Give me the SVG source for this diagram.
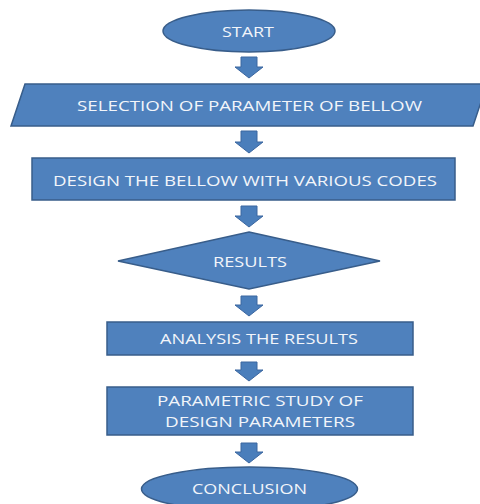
<svg xmlns="http://www.w3.org/2000/svg" width="480" height="504" viewBox="0 0 480 504">
<style>
.shape{fill:#4F81BD;stroke:#385D8A;stroke-width:1.5}
.arrow{fill:#4A7EBB;stroke:#3A66A0;stroke-width:1}
.lbl{font-family:"Open Sans","Liberation Sans",sans-serif;font-size:14.5px;fill:#F2F5FA;text-anchor:middle;dominant-baseline:central}
</style>
<rect width="480" height="504" fill="#FFFFFF"/>
<g id="connectors">
<polygon class="arrow" points="241,57 257,57 257,67 263,67 249,78 235,67 241,67"/>
<polygon class="arrow" points="241,131 257,131 257,142 263,142 249,153 235,142 241,142"/>
<polygon class="arrow" points="241,206 257,206 257,216 263,216 249,227 235,216 241,216"/>
<polygon class="arrow" points="241,296 257,296 257,305 263,305 249,316 235,305 241,305"/>
<polygon class="arrow" points="241,362 257,362 257,370 263,370 249,381 235,370 241,370"/>
<polygon class="arrow" points="241,443 257,443 257,452 263,452 249,463 235,452 241,452"/>
</g>
<g id="start">
<ellipse class="shape" cx="249" cy="31" rx="86" ry="21"/>
<text class="lbl" x="248" y="31" textLength="52" lengthAdjust="spacingAndGlyphs">START</text>
</g>
<g id="selection">
<polygon class="shape" points="25,84 487,84 473,126 11,126"/>
<text class="lbl" x="249.5" y="105" textLength="345" lengthAdjust="spacingAndGlyphs">SELECTION OF PARAMETER OF BELLOW</text>
</g>
<g id="design">
<rect class="shape" x="32" y="158" width="423" height="42"/>
<text class="lbl" x="245" y="180" textLength="384" lengthAdjust="spacingAndGlyphs">DESIGN THE BELLOW WITH VARIOUS CODES</text>
</g>
<g id="results">
<polygon class="shape" points="249,232 380,261 249,289 118,261"/>
<text class="lbl" x="250" y="261" textLength="74" lengthAdjust="spacingAndGlyphs">RESULTS</text>
</g>
<g id="analysis">
<rect class="shape" x="107" y="322" width="306" height="33"/>
<text class="lbl" x="259" y="338" textLength="198" lengthAdjust="spacingAndGlyphs">ANALYSIS THE RESULTS</text>
</g>
<g id="parametric">
<rect class="shape" x="107" y="387" width="306" height="48"/>
<text class="lbl" x="260" y="400" textLength="206" lengthAdjust="spacingAndGlyphs">PARAMETRIC STUDY OF</text>
<text class="lbl" x="260" y="421" textLength="190" lengthAdjust="spacingAndGlyphs">DESIGN PARAMETERS</text>
</g>
<g id="conclusion">
<ellipse class="shape" cx="249.5" cy="489" rx="108" ry="22"/>
<text class="lbl" x="249.5" y="488" textLength="115" lengthAdjust="spacingAndGlyphs">CONCLUSION</text>
</g>
</svg>
